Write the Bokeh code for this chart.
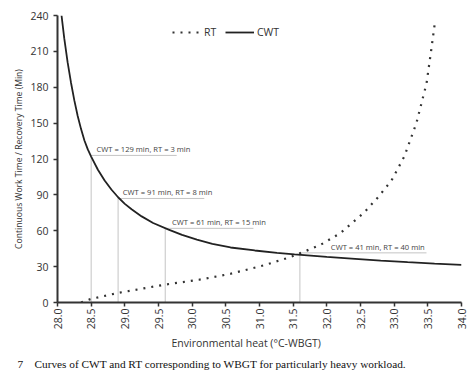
import math
from bokeh.plotting import figure
from bokeh.models import Range1d, FixedTicker, Legend, LegendItem, Title, ColumnDataSource
from bokeh.core.properties import value
from bokeh.embed import file_html
from bokeh.resources import INLINE

# CWT curve (continuous work time)
cwt_x = [28.06, 28.1, 28.15, 28.2, 28.25, 28.3, 28.35, 28.4, 28.45, 28.5, 28.6, 28.7, 28.8, 28.9, 29.0, 29.1, 29.25, 29.42, 29.65, 29.85, 30.07, 30.3, 30.57, 30.93, 31.26, 31.52, 32.0, 32.42, 32.8, 33.2, 33.6, 34.0]
cwt_y = [240, 221, 201, 184, 169, 156, 145, 135.5, 128, 122, 111, 102, 94.5, 88, 82.5, 78, 72, 66.5, 61, 56.5, 52.5, 49, 46, 43.5, 41.5, 40.2, 38.2, 36.5, 35, 33.7, 32.5, 31.5]

# RT curve (recovery time)
rt_x = [28.35, 28.5, 28.9, 29.6, 30.1, 30.57, 31.06, 31.46, 31.64, 31.9, 32.2, 32.55, 32.76, 32.96, 33.15, 33.33, 33.48, 33.55, 33.6]
rt_y = [0, 3, 8, 15, 19, 24, 31, 38, 42, 48, 58, 75, 88, 102, 122, 150, 183, 211, 232]

# annotated points
ann_x = [28.5, 28.9, 29.6, 31.6]
ann_y = [123, 87, 62, 41.5]
ann_end = [29.77, 30.18, 30.91, 33.48]
ann_text_x = [28.58, 28.97, 29.7, 32.06]
ann_text = ["CWT = 129 min, RT = 3 min", "CWT = 91 min, RT = 8 min",
            "CWT = 61 min, RT = 15 min", "CWT = 41 min, RT = 40 min"]

x_ticks = [28.0 + 0.5 * i for i in range(13)]
y_ticks = [0, 30, 60, 90, 120, 150, 180, 210, 240]

FONT = "Open Sans"
NB = "\u00a0"

p = figure(width=470, height=374, output_backend="svg", toolbar_location=None,
           x_range=Range1d(28.0, 34.0), y_range=Range1d(0, 240),
           min_border_left=57, min_border_right=9, min_border_top=15, min_border_bottom=0)
p.outline_line_color = None
p.grid.grid_line_color = None
p.background_fill_color = "white"

src = ColumnDataSource(dict(x=ann_x, y=ann_y, x1=ann_end, tx=ann_text_x, t=ann_text, z=[0] * len(ann_x)))
p.segment(x0="x", y0="z", x1="x", y1="y", source=src, line_color="#c4c4c4", line_width=1)
p.segment(x0="x", y0="y", x1="x1", y1="y", source=src, line_color="#c4c4c4", line_width=1)
p.text(x="tx", y="y", text="t", source=src, text_font=value(FONT), text_font_size="7.6px",
       text_color="#444444", text_baseline="bottom", y_offset=-1)

r_rt = p.line(rt_x, rt_y, line_color="#333333", line_width=2.2, line_dash="2 6")
r_cwt = p.line(cwt_x, cwt_y, line_color="#222222", line_width=1.8)

legend = Legend(items=[LegendItem(label="RT", renderers=[r_rt]), LegendItem(label="CWT", renderers=[r_cwt])],
                orientation="horizontal", location=(115, 260), border_line_color=None,
                background_fill_alpha=0, label_text_font=FONT, label_text_font_size="10.5px",
                label_text_color="#333333", glyph_width=29, spacing=1, label_standoff=3,
                padding=0, margin=0)
p.add_layout(legend, "center")

for ax in (p.xaxis[0], p.yaxis[0]):
    ax.axis_line_width = 2
    ax.axis_line_color = "#333333"
    ax.major_tick_line_color = "#333333"
    ax.major_tick_line_width = 1.5
    ax.major_tick_out = 4
    ax.major_tick_in = 0
    ax.minor_tick_line_color = None
    ax.major_label_text_font = FONT
    ax.major_label_text_font_size = "10.5px"
    ax.major_label_text_color = "#333333"
    ax.axis_label_text_font = FONT
    ax.axis_label_text_font_style = "normal"
    ax.axis_label_text_color = "#333333"

p.xaxis.ticker = FixedTicker(ticks=x_ticks)
p.xaxis.major_label_overrides = {t: f"{t:.1f}" for t in x_ticks}
p.xaxis.major_label_orientation = math.pi / 2
p.xaxis.major_label_standoff = 2

p.yaxis.ticker = FixedTicker(ticks=y_ticks)
p.yaxis.axis_label = "Continuous Work Time / Recovery Time (Min)"
p.yaxis.axis_label_text_font_size = "8.6px"
p.yaxis.axis_label_standoff = 2

xlab = Title(text="Environmental heat (\u00b0C-WBGT)", text_font=FONT, text_font_size="10.5px",
             text_font_style="normal", text_color="#333333", align="left", offset=114, standoff=2)
p.add_layout(xlab, "below")

cap = Title(text="7" + NB * 4 + "Curves of CWT and RT corresponding to WBGT for particularly heavy workload.",
            text_font="Liberation Serif", text_font_size="11.3px", text_font_style="normal",
            text_color="#111111", align="left", offset=-40, standoff=10)
p.add_layout(cap, "below")

open("out.html", "w").write(file_html(p, INLINE))
